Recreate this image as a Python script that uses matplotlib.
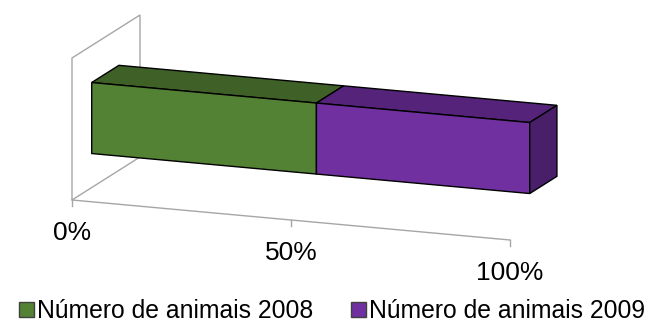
import matplotlib
matplotlib.use('Agg')
import matplotlib.pyplot as plt
from matplotlib.patches import Polygon, Patch

# Data: share of each year in the single 100% stacked bar
series = ['Número de animais 2008', 'Número de animais 2009']
shares = [51.3, 48.7]
ticks = [0, 50, 100]
tick_labels = ['0%', '50%', '100%']

front_colors = ['#548235', '#7030A0']
top_colors = ['#3F6128', '#55247A']
side_color = '#4A1F6A'

plt.rcParams['font.family'] = ['Liberation Sans', 'DejaVu Sans']


def proj(p, d, h):
    # oblique projection: p = percent along axis, d = depth 0..1, h = height (px)
    return (72 + 4.38 * p + 68 * d, 200 + 0.40 * p - 43 * d - h)


def face(ax, pts, color, ec='black', lw=1.0, z=2):
    ax.add_patch(Polygon([proj(*q) for q in pts], closed=True, fc=color,
                         ec=ec, lw=lw, zorder=z, joinstyle='miter'))


def main():
    fig = plt.figure(figsize=(6.64, 3.26), dpi=100)
    ax = fig.add_axes([0, 0, 1, 1])
    ax.set_xlim(0, 664)
    ax.set_ylim(326, 0)
    ax.axis('off')

    # side wall
    face(ax, [(0, 0, 0), (0, 0, 142), (0, 1, 142), (0, 1, 0)], 'white',
         ec='#A6A6A6', lw=1.0, z=1)

    # floor axis line and ticks
    x0, y0 = proj(0, 0, 0)
    x1, y1 = proj(100, 0, 0)
    ax.plot([x0, x1], [y0, y1], color='#A6A6A6', lw=1.0, zorder=1)
    for t, lab in zip(ticks, tick_labels):
        tx, ty = proj(t, 0, 0)
        ax.plot([tx, tx], [ty, ty + 6], color='#A6A6A6', lw=1.0, zorder=1)
        ax.text(tx, ty + 33, lab, ha='center', va='center', fontsize=19,
                color='black')

    # stacked 3D bar
    d0, d1 = 0.29, 0.69
    h0, h1 = 34, 105
    left = 0
    for val, fc, tc in zip(shares, front_colors, top_colors):
        right = left + val
        face(ax, [(left, d0, h1), (right, d0, h1), (right, d1, h1), (left, d1, h1)], tc)
        face(ax, [(left, d0, h0), (right, d0, h0), (right, d0, h1), (left, d0, h1)], fc)
        left = right
    face(ax, [(left, d0, h0), (left, d1, h0), (left, d1, h1), (left, d0, h1)], side_color)

    handles = [Patch(fc=c, ec='#404040', lw=1.0) for c in front_colors]
    fig.legend(handles, series, loc='center', bbox_to_anchor=(0.5, 0.045),
               ncol=2, frameon=False, fontsize=17.8, handlelength=0.6,
               handleheight=0.6, handletextpad=0.15, columnspacing=1.5,
               borderpad=0, borderaxespad=0)

    fig.savefig('out.png', dpi=100)


if __name__ == '__main__':
    main()
